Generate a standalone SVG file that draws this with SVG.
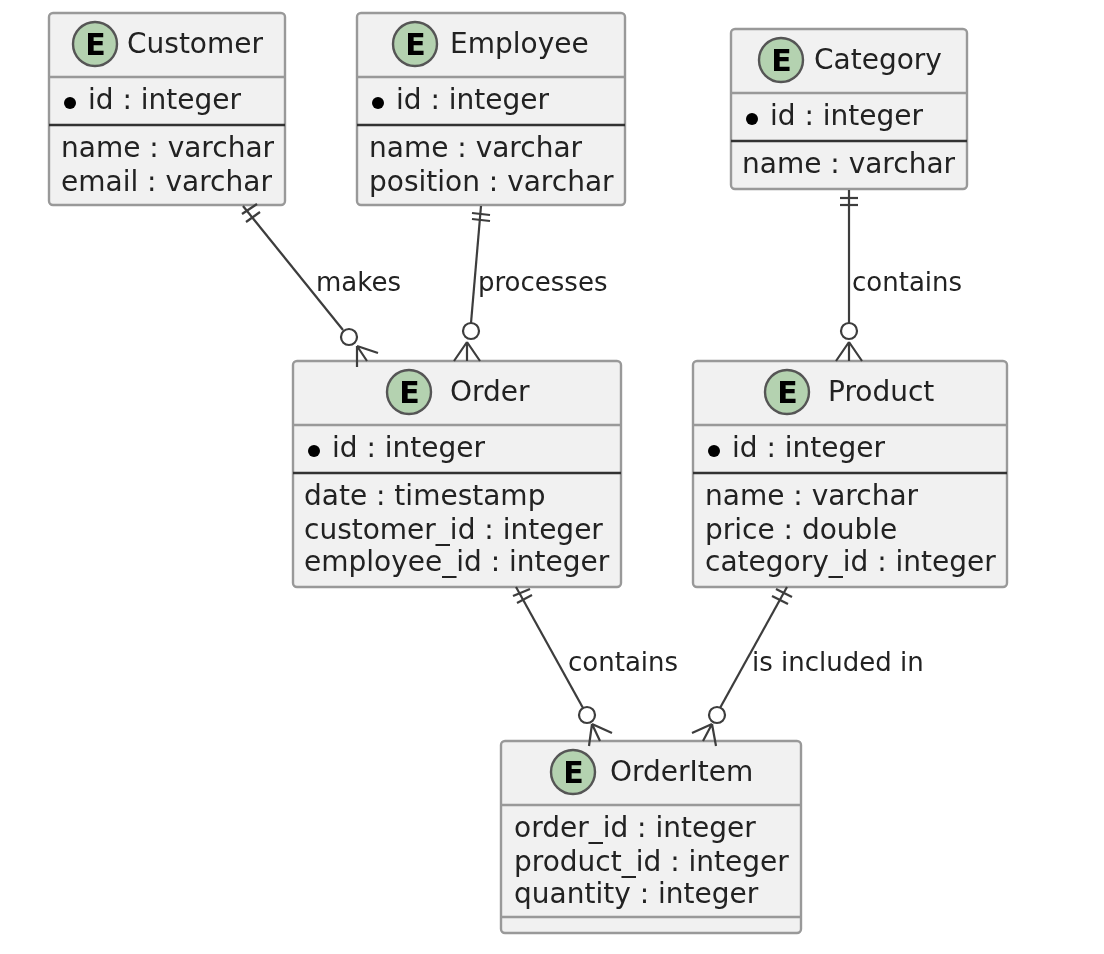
<svg xmlns="http://www.w3.org/2000/svg" width="1104" height="954" viewBox="0 0 1104 954">
<defs><filter id="soft" x="0" y="0" width="100%" height="100%" filterUnits="userSpaceOnUse" primitiveUnits="userSpaceOnUse"><feGaussianBlur stdDeviation="0.55"/></filter></defs>
<style>
text{font-family:"DejaVu Sans",sans-serif;font-size:28px;fill:#222;transform:translateY(-.7px)}
.l{font-size:26px}
.box{fill:#f1f1f1;stroke:#999;stroke-width:2.4}
.sep{stroke:#999;stroke-width:2.4}
.dark{stroke:#333;stroke-width:2.6}
.circ{fill:#b4d2b0;stroke:#555;stroke-width:2.4}
.e{font-weight:bold;font-size:30px;fill:#000;text-anchor:middle}
.c line,.c path,.c circle{stroke:#3c3c3c;stroke-width:2.2;fill:none}
.c circle{fill:#fff}
.dot{fill:#000}
</style>
<rect width="1104" height="954" fill="#fff"/>
<g filter="url(#soft)">
<g id="Customer">
<rect class="box" x="49" y="13" width="236" height="192" rx="4"/>
<line class="sep" x1="49" y1="77" x2="285" y2="77"/><line class="dark" x1="49" y1="125" x2="285" y2="125"/>
<circle class="circ" cx="95" cy="44" r="22"/><text class="e" x="95.5" y="56">E</text>
<text x="127" y="54">Customer</text>
<circle class="dot" cx="70" cy="103" r="6"/><text x="88" y="110">id : integer</text>
<text x="61" y="158">name : varchar</text><text x="61" y="192">email : varchar</text>
</g>
<g id="Employee">
<rect class="box" x="357" y="13" width="268" height="192" rx="4"/>
<line class="sep" x1="357" y1="77" x2="625" y2="77"/><line class="dark" x1="357" y1="125" x2="625" y2="125"/>
<circle class="circ" cx="415" cy="44" r="22"/><text class="e" x="415.5" y="56">E</text>
<text x="450" y="54">Employee</text>
<circle class="dot" cx="378" cy="103" r="6"/><text x="396" y="110">id : integer</text>
<text x="369" y="158">name : varchar</text><text x="369" y="192">position : varchar</text>
</g>
<g id="Category">
<rect class="box" x="731" y="29" width="236" height="160" rx="4"/>
<line class="sep" x1="731" y1="93" x2="967" y2="93"/><line class="dark" x1="731" y1="141" x2="967" y2="141"/>
<circle class="circ" cx="781" cy="60" r="22"/><text class="e" x="781.5" y="72">E</text>
<text x="814" y="70">Category</text>
<circle class="dot" cx="752" cy="119" r="6"/><text x="770" y="126">id : integer</text>
<text x="742" y="174">name : varchar</text>
</g>
<g id="Order">
<rect class="box" x="293" y="361" width="328" height="226" rx="4"/>
<line class="sep" x1="293" y1="425" x2="621" y2="425"/><line class="dark" x1="293" y1="473" x2="621" y2="473"/>
<circle class="circ" cx="409" cy="392" r="22"/><text class="e" x="409.5" y="404">E</text>
<text x="450" y="402">Order</text>
<circle class="dot" cx="314" cy="451" r="6"/><text x="332" y="458">id : integer</text>
<text x="304" y="506">date : timestamp</text><text x="304" y="540">customer_id : integer</text><text x="304" y="572">employee_id : integer</text>
</g>
<g id="Product">
<rect class="box" x="693" y="361" width="314" height="226" rx="4"/>
<line class="sep" x1="693" y1="425" x2="1007" y2="425"/><line class="dark" x1="693" y1="473" x2="1007" y2="473"/>
<circle class="circ" cx="787" cy="392" r="22"/><text class="e" x="787.5" y="404">E</text>
<text x="828" y="402">Product</text>
<circle class="dot" cx="714" cy="451" r="6"/><text x="732" y="458">id : integer</text>
<text x="705" y="506">name : varchar</text><text x="705" y="540">price : double</text><text x="705" y="572">category_id : integer</text>
</g>
<g id="OrderItem">
<rect class="box" x="501" y="741" width="300" height="192" rx="4"/>
<line class="sep" x1="501" y1="805" x2="801" y2="805"/><line class="sep" x1="501" y1="917" x2="801" y2="917"/>
<circle class="circ" cx="573" cy="772" r="22"/><text class="e" x="573.5" y="784">E</text>
<text x="610" y="782">OrderItem</text>
<text x="514" y="838">order_id : integer</text><text x="514" y="872">product_id : integer</text><text x="514" y="904">quantity : integer</text>
</g>
<g id="connectors" class="c">
<line x1="243" y1="206" x2="343" y2="330"/><line x1="242" y1="214" x2="257" y2="204"/><line x1="246" y1="222" x2="260" y2="212"/>
<circle cx="349" cy="337" r="8"/><path d="M357 346L357 367M357 346L378 353M357 346L367 361"/>
<line x1="481" y1="206" x2="471" y2="323"/><line x1="472" y1="213" x2="490" y2="215"/><line x1="472" y1="219" x2="490" y2="221"/>
<circle cx="471" cy="331" r="8"/><path d="M467 342L454 361M467 342L467 361M467 342L480 361"/>
<line x1="849" y1="190" x2="849" y2="323"/><line x1="840" y1="198" x2="858" y2="198"/><line x1="840" y1="205" x2="858" y2="205"/>
<circle cx="849" cy="331" r="8"/><path d="M849 342L836 361M849 342L849 361M849 342L862 361"/>
<line x1="516" y1="587" x2="583" y2="708"/><line x1="513" y1="596" x2="530" y2="589"/><line x1="517" y1="603" x2="532" y2="595"/>
<circle cx="587" cy="715" r="8"/><path d="M592 724L589 746M592 724L612 733M592 724L600 741"/>
<line x1="787" y1="587" x2="720" y2="708"/><line x1="776" y1="589" x2="792" y2="597"/><line x1="772" y1="596" x2="788" y2="604"/>
<circle cx="717" cy="715" r="8"/><path d="M712 724L692 733M712 724L703 741M712 724L716 746"/>
</g>
<g id="labels">
<text class="l" x="316" y="292">makes</text>
<text class="l" x="478" y="292">processes</text>
<text class="l" x="852" y="292">contains</text>
<text class="l" x="568" y="672">contains</text>
<text class="l" x="752" y="672">is included in</text>
</g>
</g>
</svg>
